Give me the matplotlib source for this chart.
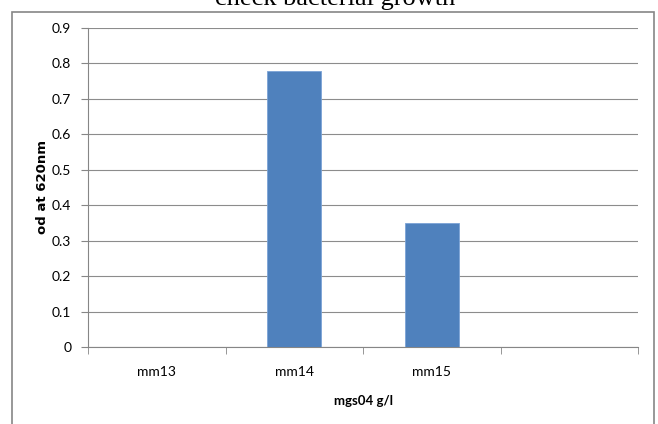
import matplotlib.pyplot as plt
from matplotlib.patches import Rectangle
import numpy as np

categories = ['mm13', 'mm14', 'mm15', '']
od_values = [0.0, 0.78, 0.35, 0.0]
y_ticks = [0, 0.1, 0.2, 0.3, 0.4, 0.5, 0.6, 0.7, 0.8, 0.9]

W, H = 658, 424
fig = plt.figure(figsize=(W / 100, H / 100), dpi=100)
ax = fig.add_axes([88 / W, 1 - 347 / H, (638 - 88) / W, (347 - 28) / H])

x = np.arange(len(categories))
ax.bar(x, od_values, width=0.39, color='#4F81BD', edgecolor='#7BA3D6', linewidth=0.6, zorder=3)

ax.set_xlim(-0.5, len(categories) - 0.5)
ax.set_ylim(0, 0.9)
ax.set_yticks(y_ticks)
ax.set_yticklabels(['0' if v == 0 else f'{v:.1f}' for v in y_ticks],
                   family='Lato', fontsize=10)
ax.set_xticks(x)
ax.set_xticklabels(categories, family='Lato', fontsize=10)
ax.set_xticks(np.arange(len(categories) + 1) - 0.5, minor=True)
ax.tick_params(axis='x', which='major', length=0, pad=14)
ax.tick_params(axis='x', which='minor', length=5, color='#868686')
ax.tick_params(axis='y', length=5, color='#868686', pad=7)

ax.grid(axis='y', color='#8C8C8C', linewidth=0.8, zorder=0)
for side in ['top', 'right']:
    ax.spines[side].set_visible(False)
for side in ['left', 'bottom']:
    ax.spines[side].set_color('#868686')
    ax.spines[side].set_linewidth(0.8)

ax.set_xlabel('mgs04 g/l', family='Lato', fontweight='bold', fontsize=9.5, labelpad=12)
ax.set_ylabel('od at 620nm', family='DejaVu Sans', fontweight='bold', fontsize=9.5, labelpad=2)

# outer chart frame, running off the bottom edge
fig.patches.append(Rectangle((12 / W, -0.05), (654 - 12) / W, 1.05 - 12 / H,
                             transform=fig.transFigure, fill=False,
                             edgecolor='#868686', linewidth=1.2))

fig.text(335 / W, 1 - 5 / H, 'check bacterial growth', family='Liberation Serif',
         fontsize=19, ha='center', va='baseline')

fig.savefig('out.png', dpi=100)
